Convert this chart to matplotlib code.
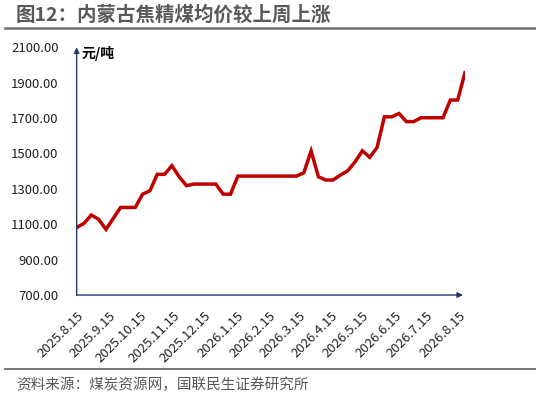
import numpy as np
import pandas as pd
import matplotlib
matplotlib.use('Agg')
import matplotlib.pyplot as plt

plt.rcParams['font.family'] = ['Noto Sans CJK SC', 'DejaVu Sans']

# weekly price, yuan/ton
start_date = '2025-08-15'
prices = [1082, 1105, 1152, 1128, 1071, 1133, 1195, 1195, 1195, 1270,
          1289, 1382, 1382, 1431, 1368, 1318, 1327, 1327, 1327, 1327,
          1270, 1270, 1372, 1372, 1372, 1372, 1372, 1372, 1372, 1372,
          1372, 1391, 1514, 1368, 1350, 1350, 1378, 1402, 1453, 1515,
          1478, 1534, 1707, 1707, 1726, 1680, 1680, 1702, 1702, 1702,
          1702, 1802, 1802, 1956]
tick_dates = pd.date_range('2025-08-01', '2026-08-01', freq='MS') + pd.Timedelta(days=14)
tick_labels = [f'{d.year}.{d.month}.{d.day}' for d in tick_dates]
y_ticks = [700, 900, 1100, 1300, 1500, 1700, 1900, 2100]

title = '图12：内蒙古焦精煤均价较上周上涨'
source = '资料来源：煤炭资源网，国联民生证券研究所'
unit = '元/吨'

dates = pd.date_range(start_date, periods=len(prices), freq='7D')

fig = plt.figure(figsize=(5.36, 4.01), dpi=100)
ax = fig.add_axes([0.143, 0.2643, 0.8675 - 0.143, 0.882 - 0.2643])

ax.plot(dates, prices, color='#C00000', lw=2.5, solid_joinstyle='miter')
ax.set_xlim(dates[0], dates[-1])
ax.set_ylim(700, 2100)

navy = '#1F3864'
for s in ['top', 'right', 'left', 'bottom']:
    ax.spines[s].set_visible(False)
# axes with arrows
ax.annotate('', xy=(0, 1.0), xytext=(0, 0), xycoords='axes fraction',
            arrowprops=dict(arrowstyle='-|>', color=navy, lw=1.0,
                            mutation_scale=8, shrinkA=0, shrinkB=0))
ax.annotate('', xy=(0.995, 0), xytext=(0, 0), xycoords='axes fraction',
            arrowprops=dict(arrowstyle='-|>', color=navy, lw=1.0,
                            mutation_scale=8, shrinkA=0, shrinkB=0))

ax.set_yticks(y_ticks)
ax.set_yticklabels([f'{v:.2f}' for v in y_ticks], fontsize=9.5, color='#222222')
ax.set_xticks(tick_dates)
ax.set_xticklabels(tick_labels, rotation=45, ha='right', rotation_mode='anchor',
                   fontsize=9.5, color='#222222')
ax.tick_params(axis='y', length=0, pad=13)
ax.tick_params(axis='x', length=0, pad=10)

ax.text(0.012, 0.975, unit, transform=ax.transAxes, fontsize=10,
        fontweight='bold', va='center', ha='left')

fig.text(0.03, 0.962, title, fontsize=14, fontweight='bold', color='#595959',
         va='center', ha='left')
fig.add_artist(plt.Line2D([0.01, 1.0], [0.929, 0.929], color='#6E6E6E', lw=1.8))
fig.add_artist(plt.Line2D([0.01, 1.0], [0.08, 0.08], color='#6E6E6E', lw=1.3))
fig.text(0.03, 0.04, source, fontsize=10.5, color='#595959', va='center', ha='left')

fig.savefig('out.png', dpi=100)
